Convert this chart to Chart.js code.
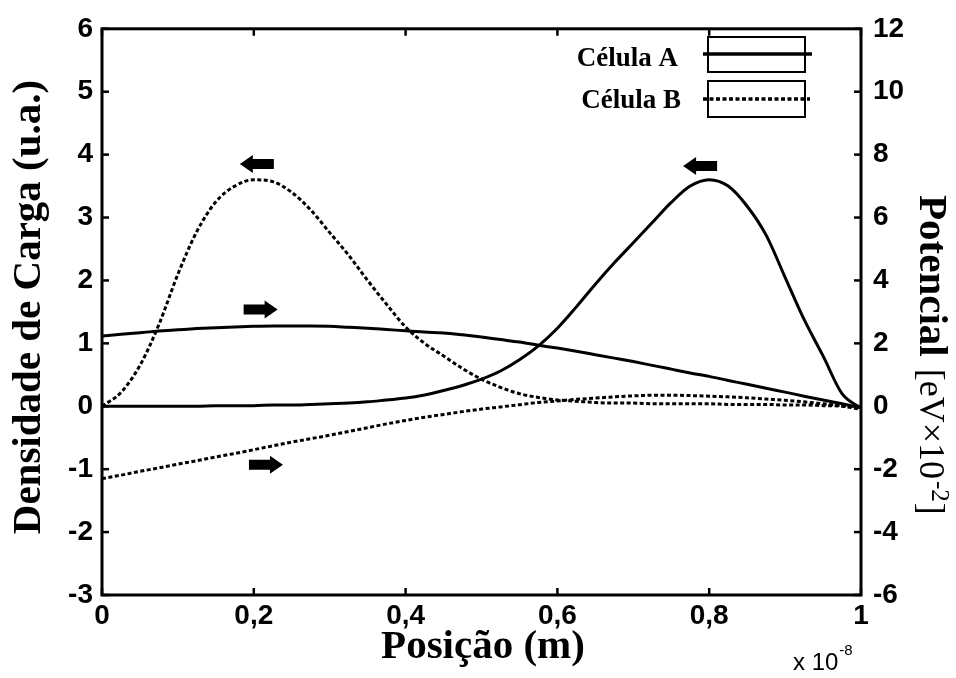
<!DOCTYPE html>
<html>
<head>
<meta charset="utf-8">
<script src="https://cdn.jsdelivr.net/npm/chart.js@4"></script>
<style>
    html, body { margin: 0; padding: 0; background: #ffffff; }
    #wrap { width: 956px; height: 678px; }
</style>
</head>
<body>
<div id="wrap"><canvas id="chart" width="956" height="678"></canvas></div>
<script>
// Posição (x 10^-8 m)
const posicao = [0, 0.025, 0.05, 0.075, 0.1, 0.125, 0.15, 0.175, 0.2, 0.225,
    0.25, 0.275, 0.3, 0.325, 0.35, 0.375, 0.4, 0.425, 0.45, 0.475,
    0.5, 0.525, 0.55, 0.575, 0.6, 0.625, 0.65, 0.675, 0.7, 0.725,
    0.75, 0.775, 0.8, 0.825, 0.85, 0.875, 0.9, 0.925, 0.95, 0.975, 1];

// densidade de carga (eixo esquerdo, u.a.)
const densidadeA = [0, 0, 0, 0, 0, 0, 0.01, 0.01, 0.01, 0.02,
    0.02, 0.03, 0.04, 0.05, 0.07, 0.1, 0.13, 0.18, 0.25, 0.33,
    0.43, 0.56, 0.74, 0.96, 1.24, 1.58, 1.94, 2.28, 2.6, 2.92,
    3.24, 3.5, 3.6, 3.5, 3.18, 2.72, 2.05, 1.38, 0.8, 0.2, -0.03];
const densidadeB = [0, 0.22, 0.65, 1.3, 2.1, 2.78, 3.25, 3.5, 3.6, 3.57,
    3.4, 3.12, 2.76, 2.4, 2.0, 1.62, 1.26, 1.0, 0.8, 0.6,
    0.43, 0.3, 0.2, 0.14, 0.1, 0.08, 0.06, 0.05, 0.05, 0.04,
    0.04, 0.04, 0.04, 0.03, 0.03, 0.03, 0.02, 0.02, 0.01, 0, -0.05];

// potencial (eixo direito, eV x 10^-2)
const potencialA = [2.23, 2.29, 2.34, 2.39, 2.43, 2.47, 2.5, 2.52, 2.54, 2.55,
    2.55, 2.55, 2.54, 2.51, 2.48, 2.44, 2.4, 2.36, 2.33, 2.27,
    2.2, 2.12, 2.04, 1.94, 1.85, 1.75, 1.64, 1.53, 1.42, 1.3,
    1.18, 1.06, 0.95, 0.82, 0.7, 0.57, 0.45, 0.32, 0.2, 0.08, -0.05];
const potencialB = [-2.3, -2.19, -2.07, -1.96, -1.84, -1.73, -1.61, -1.5, -1.38, -1.26,
    -1.14, -1.03, -0.92, -0.8, -0.68, -0.56, -0.45, -0.35, -0.26, -0.17,
    -0.09, -0.02, 0.05, 0.12, 0.17, 0.22, 0.26, 0.3, 0.33, 0.35,
    0.35, 0.34, 0.32, 0.3, 0.27, 0.23, 0.19, 0.14, 0.08, 0.02, -0.05];

const xTickLabels = ['0', '0,2', '0,4', '0,6', '0,8', '1'];

// setas: [posicao, densidade, direcao]
const setas = [
    [0.204, 3.85, -1],
    [0.209, 1.54, 1],
    [0.216, -0.93, 1],
    [0.788, 3.82, -1]
];

const toPoints = ys => ys.map((y, i) => ({ x: posicao[i], y: y }));

const tickFont = { family: '"Liberation Sans", Arial, sans-serif', size: 28, weight: 'bold' };
const serif = '"Liberation Serif", "Times New Roman", serif';

const decorPlugin = {
    id: 'decor',
    afterDatasetsDraw(chart) {
        const ctx = chart.ctx;
        const area = chart.chartArea;
        const sx = chart.scales.x;
        const sy = chart.scales.y;
        const sy2 = chart.scales.y2;

        ctx.save();
        ctx.strokeStyle = '#000';
        ctx.fillStyle = '#000';

        // caixa
        ctx.lineWidth = 3;
        ctx.strokeRect(area.left, area.top, area.right - area.left, area.bottom - area.top);

        // marcas para dentro
        ctx.lineWidth = 2.5;
        const tl = 7;
        sx.ticks.forEach(t => {
            const px = sx.getPixelForValue(t.value);
            ctx.beginPath();
            ctx.moveTo(px, area.bottom); ctx.lineTo(px, area.bottom - tl);
            ctx.moveTo(px, area.top); ctx.lineTo(px, area.top + tl);
            ctx.stroke();
        });
        sy.ticks.forEach(t => {
            const py = sy.getPixelForValue(t.value);
            ctx.beginPath();
            ctx.moveTo(area.left, py); ctx.lineTo(area.left + tl, py);
            ctx.stroke();
        });
        sy2.ticks.forEach(t => {
            const py = sy2.getPixelForValue(t.value);
            ctx.beginPath();
            ctx.moveTo(area.right, py); ctx.lineTo(area.right - tl, py);
            ctx.stroke();
        });

        // setas
        setas.forEach(s => {
            const cx = sx.getPixelForValue(s[0]);
            const cy = sy.getPixelForValue(s[1]);
            const d = s[2];
            ctx.save();
            ctx.translate(cx, cy);
            ctx.scale(d, 1);
            ctx.beginPath();
            ctx.moveTo(-17, -5);
            ctx.lineTo(4, -5);
            ctx.lineTo(4, -9);
            ctx.lineTo(17, 0);
            ctx.lineTo(4, 9);
            ctx.lineTo(4, 5);
            ctx.lineTo(-17, 5);
            ctx.closePath();
            ctx.fill();
            ctx.restore();
        });

        // legenda
        ctx.font = 'bold 27px ' + serif;
        ctx.textAlign = 'right';
        ctx.textBaseline = 'alphabetic';
        ctx.fillText('Célula A', 678, 66);
        ctx.fillText('Célula B', 681, 108);
        ctx.lineWidth = 2;
        ctx.strokeRect(708, 37, 97, 35);
        ctx.strokeRect(708, 81, 97, 36);
        ctx.lineWidth = 3.5;
        ctx.beginPath();
        ctx.moveTo(703, 54); ctx.lineTo(812, 54);
        ctx.stroke();
        ctx.setLineDash([4, 2.5]);
        ctx.beginPath();
        ctx.moveTo(703, 99); ctx.lineTo(810, 99);
        ctx.stroke();
        ctx.setLineDash([]);

        ctx.restore();
    },
    afterDraw(chart) {
        const ctx = chart.ctx;
        ctx.save();
        ctx.fillStyle = '#000';

        // titulo eixo x
        ctx.font = 'bold 41px ' + serif;
        ctx.textAlign = 'center';
        ctx.textBaseline = 'alphabetic';
        ctx.fillText('Posição (m)', 483, 658);

        // titulo eixo esquerdo
        ctx.save();
        ctx.translate(40, 307);
        ctx.rotate(-Math.PI / 2);
        ctx.fillText('Densidade de Carga (u.a.)', 0, 0);
        ctx.restore();

        // titulo eixo direito
        ctx.save();
        ctx.translate(920, 195);
        ctx.rotate(Math.PI / 2);
        ctx.textAlign = 'left';
        ctx.font = 'bold 41px ' + serif;
        ctx.fillText('Potencial', 0, 0);
        let x = ctx.measureText('Potencial').width + 12;
        ctx.font = '36px ' + serif;
        ctx.fillText('[eV×10', x, 0);
        x += ctx.measureText('[eV×10').width + 2;
        ctx.font = '25px ' + serif;
        ctx.fillText('-2', x, -12);
        x += ctx.measureText('-2').width + 1;
        ctx.font = '36px ' + serif;
        ctx.fillText(']', x, 0);
        ctx.restore();

        // fator de escala
        ctx.font = '24px "Liberation Sans", Arial, sans-serif';
        ctx.textAlign = 'left';
        ctx.fillText('x 10', 793, 670);
        const w = ctx.measureText('x 10').width;
        ctx.font = '15px "Liberation Sans", Arial, sans-serif';
        ctx.fillText('-8', 793 + w + 1, 655);

        ctx.restore();
    }
};

const ctx = document.getElementById('chart').getContext('2d');
new Chart(ctx, {
    type: 'line',
    data: {
        datasets: [{
            label: 'Célula A densidade',
            data: toPoints(densidadeA),
            yAxisID: 'y',
            borderColor: '#000',
            borderWidth: 3,
            pointRadius: 0,
            cubicInterpolationMode: 'monotone'
        }, {
            label: 'Célula B densidade',
            data: toPoints(densidadeB),
            yAxisID: 'y',
            borderColor: '#000',
            borderWidth: 3,
            borderDash: [4, 2.5],
            pointRadius: 0,
            cubicInterpolationMode: 'monotone'
        }, {
            label: 'Célula A potencial',
            data: toPoints(potencialA),
            yAxisID: 'y2',
            borderColor: '#000',
            borderWidth: 3,
            pointRadius: 0,
            cubicInterpolationMode: 'monotone'
        }, {
            label: 'Célula B potencial',
            data: toPoints(potencialB),
            yAxisID: 'y2',
            borderColor: '#000',
            borderWidth: 3,
            borderDash: [4, 2.5],
            pointRadius: 0,
            cubicInterpolationMode: 'monotone'
        }]
    },
    options: {
        responsive: false,
        animation: false,
        layout: {
            padding: { top: 23, left: 0, right: 0, bottom: 0 }
        },
        plugins: {
            legend: { display: false },
            tooltip: { enabled: false }
        },
        scales: {
            x: {
                type: 'linear',
                min: 0,
                max: 1,
                ticks: {
                    stepSize: 0.2,
                    color: '#000',
                    font: tickFont,
                    padding: 4,
                    maxRotation: 0,
                    callback: (value, index) => xTickLabels[index]
                },
                grid: { display: false, drawTicks: false },
                border: { display: false },
                afterFit: scale => { scale.height = 83; }
            },
            y: {
                position: 'left',
                min: -3,
                max: 6,
                ticks: {
                    stepSize: 1,
                    color: '#000',
                    font: tickFont,
                    padding: 9
                },
                grid: { display: false, drawTicks: false },
                border: { display: false },
                afterFit: scale => { scale.width = 102; }
            },
            y2: {
                position: 'right',
                min: -6,
                max: 12,
                ticks: {
                    stepSize: 2,
                    color: '#000',
                    font: tickFont,
                    padding: 12
                },
                grid: { display: false, drawTicks: false },
                border: { display: false },
                afterFit: scale => { scale.width = 95; }
            }
        }
    },
    plugins: [decorPlugin]
});
</script>
</body>
</html>
